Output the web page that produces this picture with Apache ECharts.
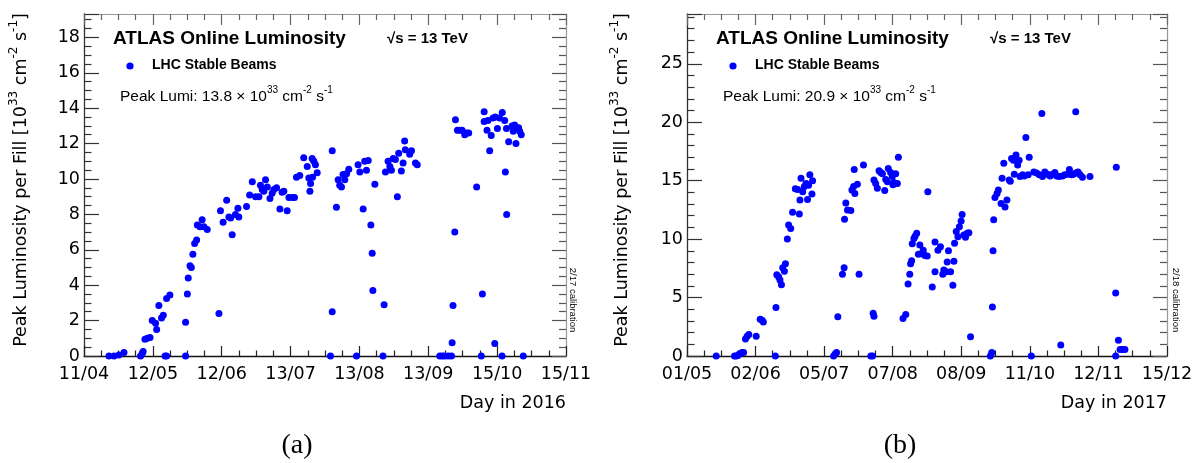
<!DOCTYPE html>
<html><head><meta charset="utf-8">
<script src="https://cdn.jsdelivr.net/npm/echarts@6/dist/echarts.min.js"></script>
<style>html,body{margin:0;padding:0;background:#fff}#c{width:1196px;height:463px}</style>
</head><body><div id="c"></div>
<script>
// ---- tick labels (dd/mm) ----
const TICKS_2016 = ['11/04','12/05','12/06','13/07','13/08','13/09','15/10','15/11'];
const TICKS_2017 = ['01/05','02/06','05/07','07/08','08/09','11/10','12/11','15/12'];
const TICK_DAYS_2016 = 31.18;   // days between labelled ticks
const TICK_DAYS_2017 = 32.6;

// ---- 2016: days since 11/04, peak luminosity [1e33 cm-2 s-1] ----
const DAYS_2016 = [11.3,13.6,15.8,18.1,25.6,26.4,26.8,27.6,28.7,29.9,30.9,32.4,32.9,33.9,35.1,35.9,36.7,37.4,37.4,38.9,
46.0,46.0,46.8,47.2,48.0,48.6,49.3,50.1,51.0,51.3,52.5,53.5,54.3,55.8,61.1,61.8,63.0,64.6,65.6,66.4,67.1,68.6,69.7,70.1,
73.6,75.0,76.2,77.7,79.2,79.9,80.7,81.4,82.2,83.0,84.2,85.2,86.0,87.2,88.7,89.7,90.5,92.0,92.8,94.3,95.3,96.2,97.7,99.5,
101.1,101.8,102.3,102.6,103.3,103.5,104.1,104.8,105.6,111.6,112.4,112.4,114.3,115.1,115.8,116.6,117.3,118.1,118.9,119.9,
123.4,124.1,124.9,126.4,127.1,127.9,128.7,129.9,130.5,130.8,131.7,135.4,135.9,136.5,137.7,138.5,139.2,140.0,141.0,141.9,
142.5,143.7,144.5,145.2,145.5,147.5,148.3,150.1,150.9,161.1,162.2,163.4,164.9,166.4,166.7,167.1,167.9,168.2,169.1,170.1,
171.2,172.4,173.2,174.2,177.8,179.9,180.4,181.2,181.2,182.5,182.9,183.7,184.4,185.2,186.0,186.3,187.2,188.2,189.3,189.4,
190.5,190.8,191.3,191.4,192.3,193.8,194.4,195.0,195.6,196.2,196.8,197.3,198.0,198.9];
const LUMI_2016 = [0.0,0.0,0.05,0.2,0.0,0.15,0.25,0.95,1.0,1.05,2.0,1.85,1.5,2.85,2.15,2.3,0.0,0.0,3.25,3.45,
0.0,1.9,3.5,4.4,5.1,5.0,5.75,6.35,6.55,7.4,7.3,7.7,7.3,7.15,2.4,8.2,7.55,8.8,7.85,7.8,6.85,8.0,8.35,7.85,
8.45,9.1,9.85,9.0,9.0,9.65,9.4,9.3,9.95,9.55,8.9,9.2,9.4,9.5,8.3,9.25,9.3,8.2,8.95,8.95,8.95,10.1,10.2,11.2,
10.7,10.05,9.3,9.75,11.15,10.1,11.0,10.8,10.35,0.0,11.6,2.5,8.4,9.95,9.65,9.55,10.25,9.95,10.3,10.55,
0.0,10.8,10.4,8.3,11.0,10.5,11.05,7.4,5.8,3.7,9.7,0.0,2.9,10.4,11.0,10.7,10.5,11.15,11.1,9.0,
11.45,10.45,10.9,12.15,11.65,11.4,11.6,10.9,10.8,0.0,0.0,0.0,0.0,0.0,0.75,2.85,7.0,13.35,12.75,12.75,
12.75,12.5,12.6,12.6,9.55,0.0,3.5,13.8,13.25,12.75,13.3,11.6,12.45,13.45,0.7,13.5,12.85,13.45,0.0,13.75,
13.3,10.4,12.85,8.0,12.1,13.0,12.7,13.05,12.0,12.85,12.9,12.7,12.5,0.0];

// ---- 2017: days since 01/05, peak luminosity [1e33 cm-2 s-1] ----
const DAYS_2017 = [13.9,22.6,23.4,24.2,25.0,26.2,26.9,27.8,28.6,29.4,32.9,34.8,35.7,36.3,42.0,42.3,42.7,43.6,44.2,44.9,
45.5,46.3,46.8,47.7,48.3,49.3,50.2,51.5,52.6,53.4,53.7,54.2,55.0,55.8,56.6,57.3,57.8,58.4,59.4,59.7,69.7,70.5,71.1,71.7,
73.9,74.7,74.9,75.5,76.3,77.9,78.4,79.2,79.5,79.8,81.0,81.8,83.9,87.4,88.2,88.5,88.9,88.9,89.7,90.5,91.3,92.1,92.9,94.0,
94.5,95.3,95.7,96.8,97.6,97.9,98.4,99.2,100.0,100.5,102.7,104.0,105.1,105.9,106.3,106.8,107.1,107.9,108.4,109.2,110.0,
110.7,111.5,112.3,113.1,114.2,114.5,116.6,117.9,117.9,119.3,120.5,121.6,122.1,123.2,123.7,124.3,125.3,126.4,126.9,127.2,
128.0,128.8,129.5,130.3,130.8,131.6,132.4,133.2,134.0,134.8,144.2,144.9,145.2,145.5,145.8,146.4,147.4,148.0,149.3,149.8,
150.6,151.2,152.1,153.2,153.7,154.3,155.2,155.6,156.4,157.2,157.9,158.3,159.6,160.3,161.1,162.2,162.7,163.7,164.9,166.2,
167.5,168.7,169.0,170.1,171.4,172.6,173.8,174.9,175.8,176.9,177.7,178.5,179.6,180.9,181.8,182.8,183.7,184.8,184.8,185.9,
186.9,188.0,191.6,203.8,203.8,204.1,205.1,205.9,206.9,208.2];
const LUMI_2017 = [0.0,0.0,0.0,0.05,0.2,0.3,0.3,1.45,1.7,1.85,1.7,3.15,3.05,2.9,0.0,4.15,6.95,6.75,6.5,6.1,
7.55,7.25,7.9,10.0,11.2,10.9,12.3,14.3,14.25,12.15,13.35,15.2,14.05,14.5,14.75,13.4,14.6,15.5,13.85,15.0,0.0,0.2,0.3,3.35,
7.0,7.55,11.7,13.1,12.5,12.45,14.2,14.5,15.95,13.9,14.7,7.0,16.35,0.0,0.0,3.65,3.4,15.05,14.75,14.35,15.85,15.7,15.6,14.15,
15.1,14.9,16.05,15.7,15.35,14.65,14.85,15.6,14.75,17.0,3.2,3.55,6.15,7.0,7.9,8.15,9.6,10.05,10.25,10.5,8.7,
9.5,8.75,9.05,8.6,8.55,14.05,5.9,9.75,7.2,9.05,9.35,7.0,7.35,7.2,8.05,9.0,7.2,6.05,8.1,9.65,
10.65,10.2,11.05,11.55,12.1,10.35,10.15,10.5,10.55,1.65,0.0,0.3,4.2,9.0,11.65,13.55,13.9,14.2,13.05,15.2,
16.5,12.75,13.35,15.05,14.95,16.9,16.75,15.55,17.2,16.35,16.75,15.35,15.5,15.4,18.7,15.5,17.0,0.0,15.75,15.65,
15.5,20.75,15.35,15.75,15.55,15.4,15.55,15.7,15.4,15.35,0.95,15.4,15.5,15.55,15.95,15.5,15.55,20.9,15.65,15.75,
15.5,15.3,15.35,0.0,5.4,16.15,1.35,0.55,0.55,0.55];

const PEAK_2016 = '13.8', PEAK_2017 = '20.9';

const TICKF = 'DejaVu Sans';
const BOLDF = 'Liberation Sans';

function xAxes(grid, tick, labels) {
  const max = +(tick * 7).toFixed(4);
  const base = {gridIndex: grid, type: 'value', min: 0, max: max, interval: tick,
    splitLine: {show: false}, minorSplitLine: {show: false}};
  return [
    Object.assign({}, base, {position: 'bottom',
      axisLine: {show: true, onZero: false, lineStyle: {color: '#111', width: 1.3}},
      axisTick: {show: true, inside: true, length: 10, lineStyle: {color: '#222', width: 1.2}},
      minorTick: {show: true, splitNumber: 4, length: 5.5, lineStyle: {color: '#222', width: 1.2}},
      axisLabel: {show: true, margin: 9, fontFamily: TICKF, fontSize: 17.5, color: '#000',
        showMinLabel: true, showMaxLabel: true, hideOverlap: false,
        formatter: v => { const k = Math.round(v / tick); return labels[k] || ''; }}}),
    Object.assign({}, base, {position: 'top',
      axisLine: {show: true, onZero: false, lineStyle: {color: '#999', width: 1.2}},
      axisTick: {show: true, inside: true, length: 11, lineStyle: {color: '#666', width: 1.2}},
      minorTick: {show: true, splitNumber: 4, length: 6, lineStyle: {color: '#666', width: 1.2}},
      axisLabel: {show: false}})
  ];
}
function yAxes(grid, max, interval, minorSplit) {
  const base = {gridIndex: grid, type: 'value', min: 0, max: max, interval: interval,
    splitLine: {show: false}, minorSplitLine: {show: false}};
  return [
    Object.assign({}, base, {position: 'left',
      axisLine: {show: true, onZero: false, lineStyle: {color: '#333', width: 1.3}},
      axisTick: {show: true, inside: true, length: 15, lineStyle: {color: '#333', width: 1.2}},
      minorTick: {show: true, splitNumber: minorSplit, length: 7.5, lineStyle: {color: '#333', width: 1.2}},
      axisLabel: {show: true, margin: 4, fontFamily: TICKF, fontSize: 17.5, color: '#000',
        showMinLabel: true, showMaxLabel: true,
        formatter: v => { const k = v / interval; return Math.abs(k - Math.round(k)) < 1e-6 ? String(Math.round(k) * interval) : ''; }}}),
    Object.assign({}, base, {position: 'right',
      axisLine: {show: true, onZero: false, lineStyle: {color: '#999', width: 1.2}},
      axisTick: {show: true, inside: true, length: 14, lineStyle: {color: '#555', width: 1.2}},
      minorTick: {show: true, splitNumber: minorSplit, length: 7, lineStyle: {color: '#555', width: 1.2}},
      axisLabel: {show: false}})
  ];
}

function txt(x, y, text, font, extra) {
  return Object.assign({type: 'text', x: x, y: y, silent: true,
    style: Object.assign({text: text, fill: '#000', fontFamily: font.family, fontSize: font.size,
      fontWeight: font.weight || 'normal', align: 'left', verticalAlign: 'middle',
      textAlign: 'left', textVerticalAlign: 'middle'}, font.style || {})}, extra || {});
}
const supRich = (n, s, lh, fam) => ({
  n: {fontFamily: fam, fontSize: n, lineHeight: lh, verticalAlign: 'bottom', fill: '#000'},
  s: {fontFamily: fam, fontSize: s, verticalAlign: 'top', fill: '#000'}
});
const yTitle = '{n|Peak Luminosity per Fill [10}{s|33}{n| cm}{s|-2}{n| s}{s|-1}{n|]}';

function panelGraphics(o) {
  const g = [];
  g.push(txt(o.x0 + 29, 38.5, 'ATLAS Online Luminosity', {family: BOLDF, size: 19, weight: 'bold'}));
  g.push(txt(o.sx, 39, '\u221As = 13 TeV', {family: BOLDF, size: 15, weight: 'bold'}));
  g.push({type: 'circle', silent: true, shape: {cx: o.mx, cy: 66, r: 3.6}, style: {fill: '#0000ff'}});
  g.push(txt(o.mx + 22, 65.5, 'LHC Stable Beams', {family: BOLDF, size: 14, weight: 'bold'}));
  g.push({type: 'text', x: o.px, y: 95, silent: true, style: {
    text: '{n|Peak Lumi: ' + o.peak + ' \u00D7 10}{s|33}{n| cm}{s|-2}{n| s}{s|-1}',
    rich: supRich(15.5, 10, 19, BOLDF), align: 'left', verticalAlign: 'middle',
    textAlign: 'left', textVerticalAlign: 'middle'}});
  g.push({type: 'text', x: o.tx, y: 180, rotation: Math.PI / 2, silent: true, style: {
    text: yTitle, rich: supRich(17.5, 12, 22, TICKF), align: 'center', verticalAlign: 'middle',
    textAlign: 'center', textVerticalAlign: 'middle'}});
  g.push(txt(o.x1, 403, o.xname, {family: TICKF, size: 17.5, style: {align: 'right', textAlign: 'right'}}));
  g.push(txt(o.cx, 300, o.calib, {family: BOLDF, size: 9.5, style: {align: 'center', textAlign: 'center'}},
    {rotation: -Math.PI / 2}));
  g.push(txt(o.capx, 446, o.cap, {family: 'Liberation Serif', size: 28, style: {align: 'center', textAlign: 'center'}}));
  return g;
}

const pts16 = DAYS_2016.map((d, i) => [d, LUMI_2016[i]]);
const pts17 = DAYS_2017.map((d, i) => [d, LUMI_2017[i]]);

const option = {
  animation: false,
  backgroundColor: '#fff',
  grid: [
    {left: 84, top: 14, width: 482, height: 342, outerBoundsMode: 'none'},
    {left: 687, top: 14, width: 480, height: 342, outerBoundsMode: 'none'}
  ],
  xAxis: [].concat(xAxes(0, TICK_DAYS_2016, TICKS_2016), xAxes(1, TICK_DAYS_2017, TICKS_2017)),
  yAxis: [].concat(yAxes(0, 19.32, 2, 4), yAxes(1, 29.26, 5, 5)),
  series: [
    {type: 'scatter', xAxisIndex: 0, yAxisIndex: 0, data: pts16, symbol: 'circle', symbolSize: 7,
      itemStyle: {color: '#0000ff', opacity: 1}, silent: true},
    {type: 'scatter', xAxisIndex: 2, yAxisIndex: 2, data: pts17, symbol: 'circle', symbolSize: 7,
      itemStyle: {color: '#0000ff', opacity: 1}, silent: true}
  ],
  graphic: {elements: [].concat(
    panelGraphics({x0: 84, x1: 566, sx: 387, mx: 130, px: 120, tx: 19, peak: PEAK_2016,
      xname: 'Day in 2016', calib: '2/17 calibration', cx: 573, cap: '(a)', capx: 297}),
    panelGraphics({x0: 687, x1: 1167, sx: 990, mx: 733, px: 723, tx: 620, peak: PEAK_2017,
      xname: 'Day in 2017', calib: '2/18 calibration', cx: 1176, cap: '(b)', capx: 900})
  )}
};
const chart = echarts.init(document.getElementById('c'), null, {renderer: 'canvas'});
chart.setOption(option);
</script></body></html>
